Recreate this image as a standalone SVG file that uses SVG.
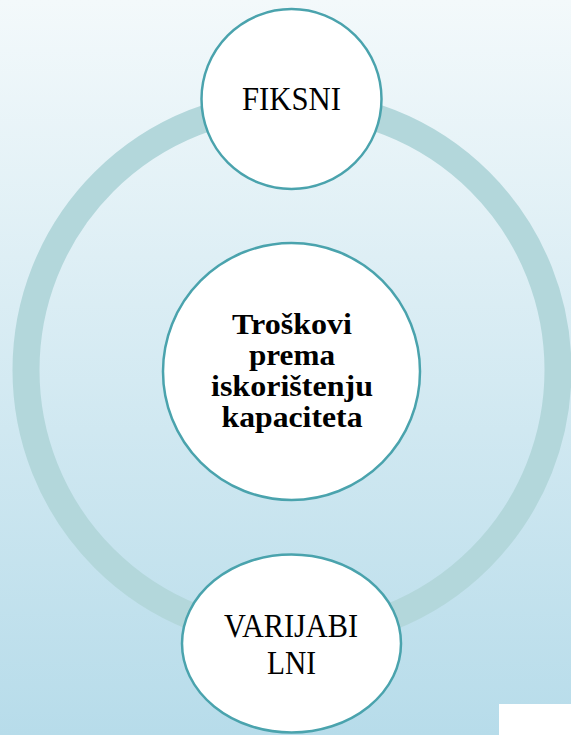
<svg xmlns="http://www.w3.org/2000/svg" width="571" height="735" viewBox="0 0 571 735">
<defs>
<linearGradient id="bg" x1="0" y1="0" x2="0" y2="1">
<stop offset="0" stop-color="#f3f9fb"/>
<stop offset="1" stop-color="#b7dcea"/>
</linearGradient>
<style>
.node{fill:#ffffff;stroke:#4aa3ad;stroke-width:2.5}
.lbl{font-family:"Liberation Serif","Times New Roman",serif;font-size:34px;fill:#000;text-anchor:middle}
.bold{font-family:"Liberation Serif","Times New Roman",serif;font-size:29px;font-weight:bold;fill:#000;text-anchor:middle}
</style>
</defs>
<rect x="0" y="0" width="571" height="735" fill="url(#bg)"/>
<g id="connectors">
<circle cx="292" cy="370" r="266" fill="none" stroke="#b3d7db" stroke-width="27"/>
</g>
<g id="node-fiksni">
<circle class="node" cx="291.5" cy="99" r="90"/>
<text class="lbl" x="291.5" y="110" textLength="99" lengthAdjust="spacingAndGlyphs">FIKSNI</text>
</g>
<g id="node-center">
<circle class="node" cx="291.5" cy="371.5" r="128.5"/>
<text class="bold" x="292" y="334" textLength="120" lengthAdjust="spacingAndGlyphs">Troškovi</text>
<text class="bold" x="292" y="365" textLength="86" lengthAdjust="spacingAndGlyphs">prema</text>
<text class="bold" x="292" y="396" textLength="162" lengthAdjust="spacingAndGlyphs">iskorištenju</text>
<text class="bold" x="292" y="427" textLength="141" lengthAdjust="spacingAndGlyphs">kapaciteta</text>
</g>
<g id="node-varijabilni">
<ellipse class="node" cx="291.5" cy="643.5" rx="109.5" ry="89"/>
<text class="lbl" x="291" y="637" textLength="134" lengthAdjust="spacingAndGlyphs">VARIJABI</text>
<text class="lbl" x="291.5" y="674" textLength="49" lengthAdjust="spacingAndGlyphs">LNI</text>
</g>
<rect x="499" y="704" width="72" height="31" fill="#ffffff"/>
</svg>
